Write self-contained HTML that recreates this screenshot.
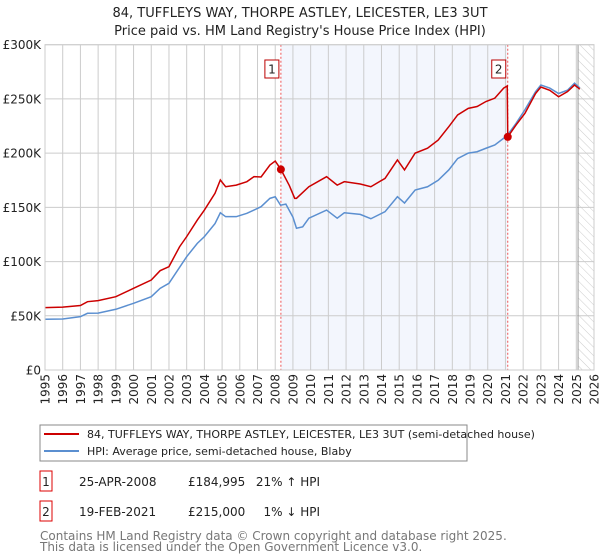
<!DOCTYPE html>
<html><head><meta charset="utf-8">
<style>
body{margin:0;background:#fff;font-family:"Liberation Sans","DejaVu Sans",sans-serif;}
#wrap{position:relative;width:600px;height:560px;overflow:hidden;}
svg text{font-family:"DejaVu Sans","Liberation Sans",sans-serif;}
</style></head>
<body><div id="wrap">
<svg id="chart" width="600" height="560"></svg>
</div>
<script>
const hpiYears=[1995,1996,1997,1997.4,1998,1999,2000,2001,2001.5,2002,2003,2003.6,2004,2004.6,2004.9,2005.2,2005.8,2006.4,2006.8,2007.2,2007.7,2008.0,2008.3,2008.6,2009.0,2009.2,2009.55,2009.9,2010.9,2011.5,2011.9,2012.8,2013.4,2014.2,2014.9,2015.3,2015.9,2016.6,2017.2,2017.8,2018.3,2018.9,2019.4,2019.9,2020.4,2021.0,2021.13,2021.6,2022.1,2022.7,2023.0,2023.5,2024.0,2024.5,2024.9,2025.2];
const hpiValues=[46.8,47,49.2,52.3,52.5,56,61.5,67.6,75.3,80,104.5,116.8,123,135,145,141.4,141.4,144.5,147.5,150.6,158.3,159.8,152,153,141,130.7,132,140,147.5,140,145,143.5,139.5,146,159.8,154,166,169,175,184.5,195,200,201.3,204.5,207.5,215,217,227.5,240,256.7,262.8,260,255,258,264.5,260];
const priceYears=[1995,1996,1997,1997.4,1998,1999,2000,2001,2001.5,2002,2002.6,2003,2003.6,2004,2004.6,2004.9,2005.2,2005.8,2006.4,2006.8,2007.2,2007.7,2008.0,2008.32,2008.8,2009.1,2009.2,2009.9,2010.9,2011.5,2011.9,2012.8,2013.4,2014.2,2014.9,2015.3,2015.9,2016.6,2017.2,2017.8,2018.3,2018.9,2019.4,2019.9,2020.4,2020.9,2021.1,2021.13,2021.6,2022.1,2022.7,2023.0,2023.5,2024.0,2024.5,2024.9,2025.2];
const priceValues=[57.5,58,59.5,63,64,67.6,75.3,83,91.6,95.3,113.7,123,138.3,147.5,163,175.2,169,170.5,173.7,178.3,178,189,192.7,185,170,158.3,158.3,169,178.3,170.5,173.7,171.5,169,176.7,193.7,184.5,200,204.5,212,224.4,235.2,241.3,243,247.6,250.7,260,262,215,226,236.7,255,261,258,252,256.7,262.8,259];
const saleYears=[2008.32,2021.13];
const saleValues=[184.995,215];
const saleLabels=["1","2"];
const yTicks=[0,50,100,150,200,250,300];
const yTickLabels=["£0","£50K","£100K","£150K","£200K","£250K","£300K"];
const xTicks=[1995,1996,1997,1998,1999,2000,2001,2002,2003,2004,2005,2006,2007,2008,2009,2010,2011,2012,2013,2014,2015,2016,2017,2018,2019,2020,2021,2022,2023,2024,2025,2026];
const NS="http://www.w3.org/2000/svg";
const svg=document.getElementById('chart');
const L=45,R=594,T=44.7,B=370;
const X=y=>L+(y-1995)/(2026-1995)*(R-L);
const Y=v=>B-v/300*(B-T);
function mk(tag,attrs,parent){const e=document.createElementNS(NS,tag);for(const k in attrs)e.setAttribute(k,attrs[k]);(parent||svg).appendChild(e);return e;}
const defs=mk('defs',{});
const pat=mk('pattern',{id:'hatch',width:6,height:6,patternUnits:'userSpaceOnUse',patternTransform:'rotate(-45)'},defs);
mk('line',{x1:0,y1:0,x2:0,y2:6,stroke:'#ccc','stroke-width':1},pat);
let e;
e=mk('rect',{x:X(2008.32),y:T,width:X(2021.13)-X(2008.32),height:B-T,fill:'#f3f6fd'});

e=mk('rect',{x:X(2025.1),y:T,width:R-X(2025.1),height:B-T,fill:'url(#hatch)'});

xTicks.forEach(t=>{e=mk('line',{x1:X(t),x2:X(t),y1:T,y2:B,stroke:'#ccc','stroke-width':1});

const tx=X(t)+4.5,ty=374;
e=mk('text',{x:tx,y:ty,'text-anchor':'end','font-size':12,fill:'#222',transform:`rotate(-90 ${tx} ${ty})`});e.textContent=t;
});
yTicks.forEach((t,i)=>{e=mk('line',{x1:L,x2:R,y1:Y(t),y2:Y(t),stroke:'#ccc','stroke-width':1});

e=mk('text',{x:41,y:Y(t)+4.5,'text-anchor':'end','font-size':12,fill:'#222'});e.textContent=yTickLabels[i];
});
e=mk('line',{x1:X(2025.1),x2:X(2025.1),y1:T,y2:B,stroke:'#999','stroke-width':1});

saleYears.forEach(s=>{e=mk('line',{x1:X(s),x2:X(s),y1:T,y2:B,stroke:'#e55','stroke-width':1,'stroke-dasharray':'2,2'});
});
e=mk('polyline',{points:hpiYears.map((y,i)=>X(y)+','+Y(hpiValues[i])).join(' '),fill:'none',stroke:'#5b8fd0','stroke-width':1.5});

e=mk('polyline',{points:priceYears.map((y,i)=>X(y)+','+Y(priceValues[i])).join(' '),fill:'none',stroke:'#cc0000','stroke-width':1.5});

saleYears.forEach((s,i)=>{e=mk('circle',{cx:X(s),cy:Y(saleValues[i]),r:4,fill:'#cc0000'});

const bx=X(s)-16;
e=mk('rect',{x:bx,y:60,width:14,height:18,fill:'#fff',stroke:'#b00','stroke-width':1});

e=mk('text',{x:bx+7,y:73.5,'text-anchor':'middle','font-size':12,fill:'#222'});e.textContent=saleLabels[i];
});
e=mk('rect',{x:L,y:T,width:R-L,height:B-T,fill:'none',stroke:'#ccc','stroke-width':1});

e=mk('text',{x:300,y:17,'text-anchor':'middle','font-size':13,fill:'#222'});e.textContent="84, TUFFLEYS WAY, THORPE ASTLEY, LEICESTER, LE3 3UT";

e=mk('text',{x:300,y:35,'text-anchor':'middle','font-size':13,fill:'#222'});e.textContent="Price paid vs. HM Land Registry's House Price Index (HPI)";

e=mk('rect',{x:40,y:425,width:427,height:36,fill:'#fff',stroke:'#888','stroke-width':1});

e=mk('line',{x1:44,x2:79,y1:434,y2:434,stroke:'#cc0000','stroke-width':2});

e=mk('text',{x:87,y:438,'font-size':11,fill:'#222'});e.textContent="84, TUFFLEYS WAY, THORPE ASTLEY, LEICESTER, LE3 3UT (semi-detached house)";

e=mk('line',{x1:44,x2:79,y1:451,y2:451,stroke:'#5b8fd0','stroke-width':2});

e=mk('text',{x:87,y:455,'font-size':11,fill:'#222'});e.textContent="HPI: Average price, semi-detached house, Blaby";

const rows=[["1","25-APR-2008","£184,995","21% ↑ HPI"],["2","19-FEB-2021","£215,000","1% ↓ HPI"]];
rows.forEach((r,i)=>{const y=483+i*30;
e=mk('rect',{x:40,y:y-12,width:12,height:20,fill:'#fff',stroke:'#d00','stroke-width':1});

e=mk('text',{x:46,y:y+3,'text-anchor':'middle','font-size':12,fill:'#222'});e.textContent=r[0];

e=mk('text',{x:79,y:y+3,'font-size':12,fill:'#222'});e.textContent=r[1];

e=mk('text',{x:188,y:y+3,'font-size':12,fill:'#222'});e.textContent=r[2];

e=mk('text',{x:320,y:y+3,'text-anchor':'end','font-size':12,fill:'#222'});e.textContent=r[3];
});
e=mk('text',{x:40,y:540,'font-size':12,fill:'#777'});e.textContent="Contains HM Land Registry data © Crown copyright and database right 2025.";

e=mk('text',{x:40,y:551,'font-size':12,fill:'#777'});e.textContent="This data is licensed under the Open Government Licence v3.0.";

</script>
</body></html>
